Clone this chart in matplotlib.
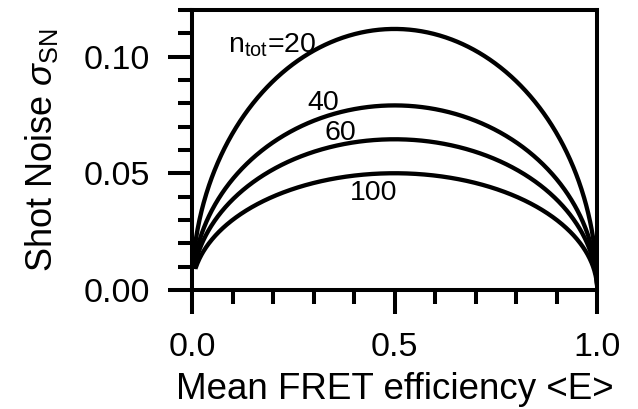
import numpy as np
import matplotlib.pyplot as plt
from matplotlib.ticker import MultipleLocator

plt.rcParams['font.family'] = ['Liberation Sans', 'DejaVu Sans']
plt.rcParams['mathtext.fontset'] = 'custom'
plt.rcParams['mathtext.rm'] = 'Liberation Sans'
plt.rcParams['mathtext.it'] = 'Liberation Sans:italic'

# photon counts per burst and where each label sits
n_tot = [20, 40, 60, 100]
label_text = ['n$_{\\mathrm{tot}}$=20', '40', '60', '100']
label_x = [0.089, 0.324, 0.366, 0.447]
label_y = [0.1017, 0.0769, 0.0641, 0.0385]
label_ha = ['left', 'center', 'center', 'center']

fig = plt.figure(figsize=(6.38, 4.09), dpi=100)
ax = fig.add_axes([0.301, 0.291, 0.635, 0.685])

for n in n_tot:
    # shot noise of a binomial FRET estimate: sqrt(E(1-E)/n)
    E = np.linspace(1e-4 * n, 0.9995, 600)
    ax.plot(E, np.sqrt(E * (1 - E) / n), color='black', lw=3.1)

for t, x, y, ha in zip(label_text, label_x, label_y, label_ha):
    ax.text(x, y, t, fontsize=20.5, ha=ha, va='baseline')

ax.set_xlim(0, 1)
ax.set_ylim(0, 0.12)
ax.xaxis.set_major_locator(MultipleLocator(0.5))
ax.xaxis.set_minor_locator(MultipleLocator(0.1))
ax.yaxis.set_major_locator(MultipleLocator(0.05))
ax.yaxis.set_minor_locator(MultipleLocator(0.01))
ax.xaxis.set_major_formatter(lambda v, p: f'{v:.1f}')
ax.yaxis.set_major_formatter(lambda v, p: f'{v:.2f}')

for s in ax.spines.values():
    s.set_linewidth(2.9)
ax.tick_params(which='major', direction='out', length=17, width=2.9, labelsize=24.5)
ax.tick_params(axis='x', which='major', pad=13)
ax.tick_params(axis='y', which='major', pad=13)
ax.tick_params(which='minor', direction='out', length=10, width=2.9)

ax.set_xlabel('Mean FRET efficiency <E>', fontsize=26.5, labelpad=7)
ax.set_ylabel('Shot Noise $\\it{\\sigma}_{\\mathrm{SN}}$', fontsize=26, labelpad=17)

fig.savefig('out.png', dpi=100)
